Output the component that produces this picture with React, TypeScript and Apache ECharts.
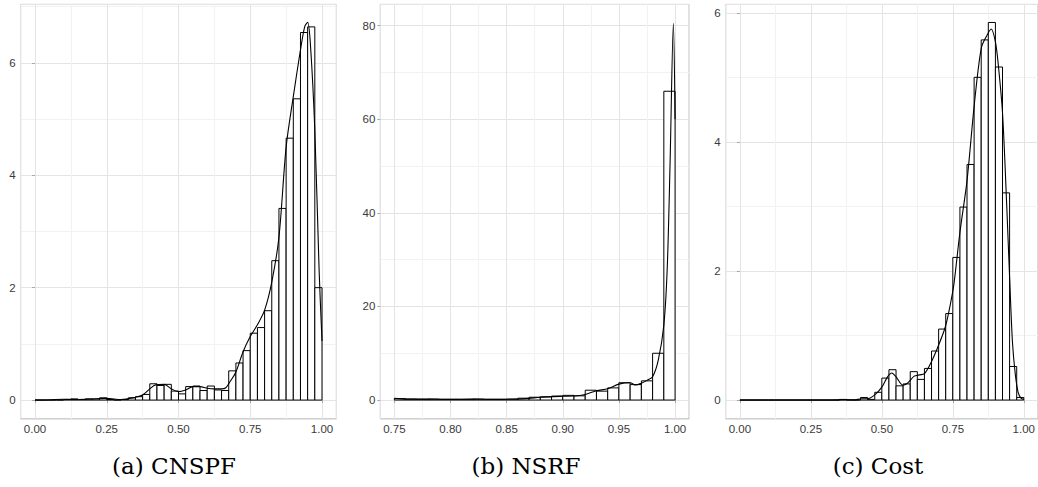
import React, { useEffect, useRef } from "react";
import * as echarts from "echarts";

// ---------- data ----------
// (a) CNSPF histogram: 40 bins of width 0.025 starting at 0
const cnspfBinStart = 0;
const cnspfBinWidth = 0.025;
const cnspfBins = [
  0, 0, 0, 0, 0.01, 0.02, 0.01, 0.02, 0.02, 0.04, 0.01, 0.0, 0.01,
  0.04, 0.06, 0.1, 0.29, 0.26, 0.28, 0.16, 0.11, 0.24, 0.25, 0.17, 0.25, 0.18, 0.17,
  0.52, 0.66, 0.88, 1.19, 1.29, 1.59, 2.48, 3.41, 4.66, 5.36, 6.54, 6.64, 2.0,
];
const cnspfDensX = [0, 0.05, 0.1, 0.15, 0.2, 0.25, 0.3, 0.35, 0.375, 0.4, 0.42, 0.45, 0.475, 0.5, 0.525, 0.55, 0.575, 0.6, 0.625, 0.65, 0.665, 0.68, 0.7, 0.725, 0.75, 0.775, 0.8, 0.825, 0.85, 0.875, 0.9, 0.925, 0.94, 0.95, 0.96, 0.975, 0.99, 1.0];
const cnspfDensY = [0, 0.005, 0.015, 0.01, 0.02, 0.03, 0.01, 0.05, 0.09, 0.2, 0.27, 0.28, 0.2, 0.15, 0.18, 0.24, 0.24, 0.21, 0.2, 0.2, 0.22, 0.33, 0.5, 0.86, 1.13, 1.34, 1.6, 2.1, 2.9, 4.5, 5.4, 6.23, 6.65, 6.72, 6.3, 4.8, 2.3, 1.05];

// (b) NSRF histogram: 25 bins of width 0.01 starting at 0.75
const nsrfBinStart = 0.75;
const nsrfBinWidth = 0.01;
const nsrfBins = [0.3, 0.2, 0.15, 0.2, 0.15, 0.15, 0.15, 0.2, 0.15, 0.15, 0.2, 0.4, 0.6, 0.7, 0.85, 1.0, 0.9, 2.1, 1.9, 2.6, 3.7, 3.3, 4.1, 10.0, 66.0];
const nsrfDensX = [0.75, 0.76, 0.78, 0.8, 0.82, 0.84, 0.86, 0.87, 0.88, 0.9, 0.91, 0.92, 0.93, 0.94, 0.95, 0.96, 0.965, 0.97, 0.975, 0.98, 0.985, 0.99, 0.993, 0.9955, 0.9985, 1.0];
const nsrfDensY = [0.35, 0.2, 0.2, 0.15, 0.2, 0.15, 0.2, 0.35, 0.6, 0.8, 0.85, 1.2, 2.0, 2.4, 3.4, 3.7, 3.2, 3.6, 4.2, 5.0, 8.5, 16, 28, 50, 80.5, 60];

// (c) Cost histogram: 40 bins of width 0.025 starting at 0
const costBinStart = 0;
const costBinWidth = 0.025;
const costBins = [
  0, 0, 0, 0, 0, 0, 0, 0, 0, 0, 0, 0, 0, 0,
  0.01, 0, 0, 0.04, 0.01, 0.12, 0.34, 0.47, 0.22, 0.25, 0.44, 0.32, 0.49,
  0.76, 1.1, 1.34, 2.21, 2.99, 3.65, 5.0, 5.58, 5.85, 5.16, 3.21, 0.52, 0.04,
];
const costDensX = [0, 0.1, 0.2, 0.3, 0.35, 0.37, 0.4, 0.43, 0.45, 0.475, 0.5, 0.52, 0.535, 0.55, 0.574, 0.59, 0.614, 0.632, 0.65, 0.672, 0.698, 0.724, 0.742, 0.754, 0.775, 0.8, 0.825, 0.85, 0.87, 0.885, 0.9, 0.91, 0.925, 0.94, 0.95, 0.96, 0.97, 0.98, 0.99, 1.0];
const costDensY = [0, 0, 0, 0, 0.003, 0.006, 0.002, 0.02, 0.02, 0.08, 0.2, 0.36, 0.42, 0.36, 0.23, 0.26, 0.37, 0.39, 0.41, 0.57, 0.83, 1.14, 1.5, 1.8, 2.6, 3.4, 4.55, 5.45, 5.65, 5.75, 5.55, 5.2, 4.45, 3.0, 1.9, 0.9, 0.4, 0.12, 0.03, 0.01];

// tick steps and axis ranges
const xSteps = [0.25, 0.05, 0.25];
const ySteps = [2, 20, 2];
const xRanges = [[-0.05, 1.05], [0.7375, 1.0125], [-0.05, 1.05]];
const yRanges = [[-0.335, 7.04], [-4.03, 84.56], [-0.292, 6.13]];
const captions = ["(a) CNSPF", "(b) NSRF", "(c) Cost"];

// ---------- layout ----------
const gridLefts = [20.65, 380.3, 725.7];
const gridWidths = [315.7, 308.8, 315.7];
const gridTop = 4.4;
const gridHeight = 414.5;
const captionX = [174, 526, 878];
const captionY = 466;

function binData(start: number, width: number, vals: number[]) {
  return vals.map((h, i) => [start + i * width, start + (i + 1) * width, h]);
}

function pairs(xs: number[], ys: number[]) {
  return xs.map((x, i) => [x, ys[i]]);
}

const renderBar = (params: any, api: any) => {
  const x0 = api.value(0);
  const x1 = api.value(1);
  const h = api.value(2);
  const p0 = api.coord([x0, h]);
  const p1 = api.coord([x1, 0]);
  return {
    type: "rect",
    shape: { x: p0[0], y: p0[1], width: p1[0] - p0[0], height: p1[1] - p0[1] },
    style: { fill: "#ffffff", stroke: "#000000", lineWidth: 1 },
  };
};

const isMultiple = (v: number, step: number) =>
  Math.abs(v / step - Math.round(v / step)) < 1e-6;

export default function App() {
  const ref = useRef<HTMLDivElement>(null);

  useEffect(() => {
    if (!ref.current) return;
    const chart = echarts.init(ref.current, undefined, { renderer: "svg" });

    const hist = [
      binData(cnspfBinStart, cnspfBinWidth, cnspfBins),
      binData(nsrfBinStart, nsrfBinWidth, nsrfBins),
      binData(costBinStart, costBinWidth, costBins),
    ];
    const dens = [
      pairs(cnspfDensX, cnspfDensY),
      pairs(nsrfDensX, nsrfDensY),
      pairs(costDensX, costDensY),
    ];

    const labelFont = "'Liberation Sans', Arial, Helvetica, sans-serif";

    const grids = [0, 1, 2].map((i) => ({
      left: gridLefts[i],
      top: gridTop,
      width: gridWidths[i],
      height: gridHeight,
      show: true,
      borderColor: "#b3b3b3",
      borderWidth: 1,
      backgroundColor: "transparent",
      containLabel: false,
    }));

    const xAxes = [0, 1, 2].map((i) => ({
      gridIndex: i,
      type: "value",
      min: xRanges[i][0],
      max: xRanges[i][1],
      minInterval: xSteps[i],
      maxInterval: xSteps[i],
      axisLine: { show: false },
      axisTick: { show: true, length: 3, lineStyle: { color: "#a8a8a8", width: 1 } },
      axisLabel: {
        showMinLabel: false,
        showMaxLabel: false,
        color: "#3a3a3a",
        fontSize: 11.5,
        fontFamily: labelFont,
        margin: 4,
        formatter: (v: number) => (isMultiple(v, xSteps[i]) ? v.toFixed(2) : ""),
      },
      splitLine: { show: true, lineStyle: { color: "#e4e4e4", width: 1 } },
      minorTick: { show: false, splitNumber: 2 },
      minorSplitLine: { show: true, lineStyle: { color: "#f2f2f2", width: 1 } },
    }));

    const yAxes = [0, 1, 2].map((i) => ({
      gridIndex: i,
      type: "value",
      min: yRanges[i][0],
      max: yRanges[i][1],
      minInterval: ySteps[i],
      maxInterval: ySteps[i],
      axisLine: { show: false },
      axisTick: { show: true, length: 3, lineStyle: { color: "#a8a8a8", width: 1 } },
      axisLabel: {
        showMinLabel: false,
        showMaxLabel: false,
        color: "#3a3a3a",
        fontSize: 11.5,
        fontFamily: labelFont,
        margin: 5,
        formatter: (v: number) => (isMultiple(v, ySteps[i]) ? String(Math.round(v)) : ""),
      },
      splitLine: { show: true, lineStyle: { color: "#e4e4e4", width: 1 } },
      minorTick: { show: false, splitNumber: 2 },
      minorSplitLine: { show: true, lineStyle: { color: "#f2f2f2", width: 1 } },
    }));

    const series: any[] = [];
    [0, 1, 2].forEach((i) => {
      series.push({
        type: "custom",
        xAxisIndex: i,
        yAxisIndex: i,
        renderItem: renderBar,
        encode: { x: [0, 1], y: 2 },
        data: hist[i],
        z: 2,
        silent: true,
      });
      series.push({
        type: "line",
        xAxisIndex: i,
        yAxisIndex: i,
        data: dens[i],
        showSymbol: false,
        symbol: "none",
        smooth: 0.3,
        lineStyle: { color: "#000000", width: 1.1 },
        z: 3,
        silent: true,
      });
    });

    chart.setOption({
      animation: false,
      backgroundColor: "#ffffff",
      grid: grids,
      xAxis: xAxes,
      yAxis: yAxes,
      series,
      graphic: captions.map((t, i) => ({
        type: "text",
        x: captionX[i],
        y: captionY,
        style: {
          text: t,
          fill: "#000000",
          font: "23px 'DejaVu Serif', 'Liberation Serif', serif",
          textAlign: "center",
          textVerticalAlign: "middle",
        },
      })),
    });

    return () => chart.dispose();
  }, []);

  return (
    <div
      ref={ref}
      style={{ position: "absolute", left: 0, top: 0, width: 1038, height: 487, background: "#fff" }}
    />
  );
}
